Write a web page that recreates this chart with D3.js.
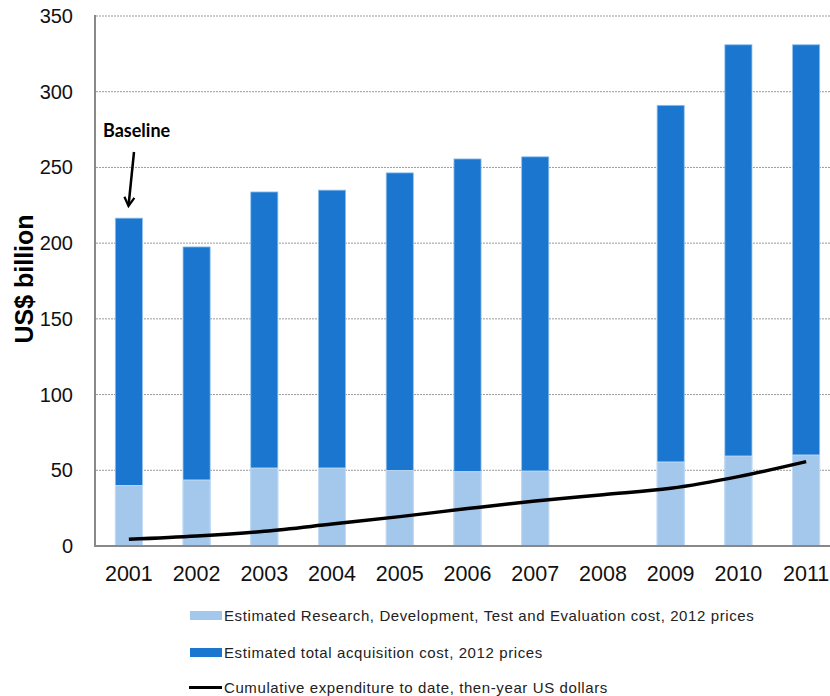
<!DOCTYPE html>
<html lang="en">
<head>
<meta charset="UTF-8">
<title>Acquisition cost chart</title>
<script src="https://d3js.org/d3.v7.min.js"></script>
<style>
  body { margin: 0; background: #fff; }
  svg text { font-family: "Liberation Sans", Arial, sans-serif; }
</style>
</head>
<body>
<div id="chart"></div>
<script>
// data (US$ billion)
const years = ['2001', '2002', '2003', '2004', '2005', '2006', '2007', '2008', '2009', '2010', '2011'];
const rdte = [40, 43.6, 51.5, 51.5, 49.8, 49.1, 49.5, null, 55.5, 59.4, 60.1];
const totalCost = [216.5, 197.5, 233.8, 235, 246.4, 255.6, 257, null, 291, 331, 331];
const cumulative = [4.4, 6.6, 9.7, 14.5, 19.4, 24.7, 29.7, 33.9, 38.1, 45.8, 55.7];
const yTicks = [0, 50, 100, 150, 200, 250, 300, 350];
const legendLabels = [
  'Estimated Research, Development, Test and Evaluation cost, 2012 prices',
  'Estimated total acquisition cost, 2012 prices',
  'Cumulative expenditure to date, then-year US dollars'
];

const width = 830, height = 696;
const lightBlue = '#a4c8ec', darkBlue = '#1b76cf';

const svg = d3.select('#chart').append('svg')
  .attr('width', width)
  .attr('height', height);

const x = d3.scaleBand().domain(years).range([95, 840]).paddingInner(0.6).paddingOuter(0.3);
const y = d3.scaleLinear().domain([0, 350]).range([546, 16]);

// gridlines
svg.append('g')
  .selectAll('line')
  .data(yTicks.filter(d => d > 0))
  .join('line')
  .attr('x1', 96).attr('x2', width)
  .attr('y1', d => y(d)).attr('y2', d => y(d))
  .attr('stroke', '#999')
  .attr('stroke-width', 1)
  .attr('stroke-dasharray', '2,1');

// y tick labels
svg.append('g')
  .selectAll('text')
  .data(yTicks)
  .join('text')
  .attr('x', 73)
  .attr('y', d => y(d))
  .attr('dy', '0.35em')
  .attr('text-anchor', 'end')
  .attr('font-size', 20)
  .attr('fill', '#111')
  .text(d => d);

// y title
svg.append('text')
  .attr('transform', 'translate(33,279) rotate(-90)')
  .attr('text-anchor', 'middle')
  .attr('font-size', 25)
  .attr('font-weight', 'bold')
  .text('US$ billion');

// bars: total cost (dark) then RDT&E (light) on top
const idx = d3.range(years.length).filter(i => totalCost[i] != null);
svg.append('g')
  .selectAll('rect')
  .data(idx)
  .join('rect')
  .attr('x', i => x(years[i]))
  .attr('width', x.bandwidth())
  .attr('y', i => y(totalCost[i]))
  .attr('height', i => y(0) - y(totalCost[i]))
  .attr('fill', darkBlue)
  .attr('stroke', '#8ec0ee')
  .attr('stroke-width', 0.8);

svg.append('g')
  .selectAll('rect')
  .data(idx)
  .join('rect')
  .attr('x', i => x(years[i]))
  .attr('width', x.bandwidth())
  .attr('y', i => y(rdte[i]))
  .attr('height', i => y(0) - y(rdte[i]))
  .attr('fill', lightBlue)
  .attr('stroke', '#cfe2f6')
  .attr('stroke-width', 0.8);

// axes lines
svg.append('line')
  .attr('x1', 95).attr('x2', 95).attr('y1', 15).attr('y2', 547)
  .attr('stroke', '#888').attr('stroke-width', 2);
svg.append('line')
  .attr('x1', 94).attr('x2', width).attr('y1', 546).attr('y2', 546)
  .attr('stroke', '#888').attr('stroke-width', 2);

// x labels
svg.append('g')
  .selectAll('text')
  .data(years)
  .join('text')
  .attr('x', d => x(d) + x.bandwidth() / 2)
  .attr('y', 581)
  .attr('text-anchor', 'middle')
  .attr('font-size', 21.5)
  .attr('fill', '#111')
  .text(d => d);

// cumulative line
const line = d3.line()
  .x((d, i) => x(years[i]) + x.bandwidth() / 2)
  .y(d => y(d))
  .curve(d3.curveCatmullRom);
svg.append('path')
  .datum(cumulative)
  .attr('d', line)
  .attr('fill', 'none')
  .attr('stroke', '#000')
  .attr('stroke-width', 3.5);

// baseline annotation
svg.append('defs').append('marker')
  .attr('id', 'arrow')
  .attr('viewBox', '0 0 10 10')
  .attr('refX', 8).attr('refY', 5)
  .attr('markerWidth', 5).attr('markerHeight', 5)
  .attr('orient', 'auto')
  .append('path')
  .attr('d', 'M1,1 L8,5 L1,9')
  .attr('fill', 'none')
  .attr('stroke', '#000')
  .attr('stroke-width', 1.8);
svg.append('text')
  .attr('x', 103).attr('y', 137)
  .attr('font-size', 18)
  .attr('font-weight', 'bold')
  .style('font-family', 'Lato, "Open Sans", sans-serif')
  .text('Baseline');
svg.append('line')
  .attr('x1', 134).attr('y1', 152)
  .attr('x2', 128.5).attr('y2', 206)
  .attr('stroke', '#000')
  .attr('stroke-width', 2.5)
  .attr('marker-end', 'url(#arrow)');

// legend
const legend = svg.append('g');
const rowY = [615.5, 652.5, 687.5];
legendLabels.forEach((label, i) => {
  if (i < 2) {
    legend.append('rect')
      .attr('x', 190).attr('y', rowY[i] - 4.5)
      .attr('width', 32).attr('height', 9)
      .attr('fill', i === 0 ? lightBlue : darkBlue);
  } else {
    legend.append('line')
      .attr('x1', 189).attr('x2', 222)
      .attr('y1', rowY[i]).attr('y2', rowY[i])
      .attr('stroke', '#000').attr('stroke-width', 3);
  }
  legend.append('text')
    .attr('x', 224).attr('y', rowY[i])
    .attr('dy', '0.35em')
    .attr('font-size', 15)
    .attr('letter-spacing', 0.6)
    .attr('fill', '#222')
    .text(label);
});
</script>
</body>
</html>
